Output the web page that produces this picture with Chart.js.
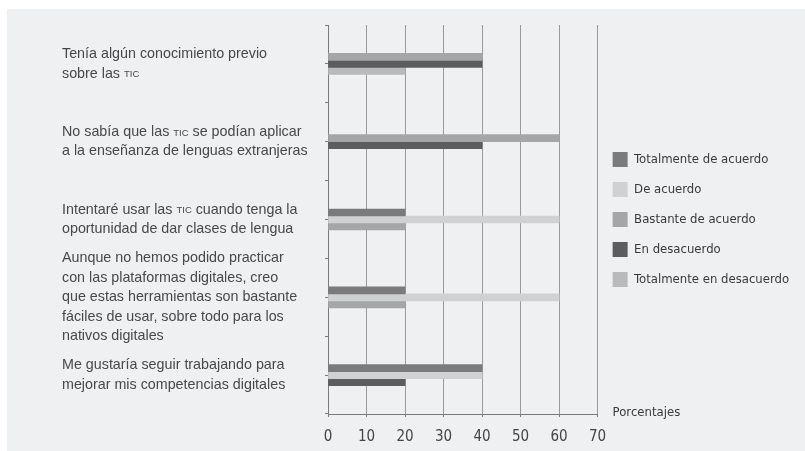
<!DOCTYPE html>
<html lang="es">
<head>
<meta charset="UTF-8">
<script src="https://cdn.jsdelivr.net/npm/chart.js@4.4.0/dist/chart.umd.min.js"></script>
<style>
    body { margin: 0; background: #ffffff; }
    .panel { position: absolute; left: 7px; top: 9px; width: 798px; height: 442px; background: #eff0f2; }
</style>
<title>Percepción de las TIC</title>
</head>
<body>
<div class="panel">
    <canvas id="chart" width="798" height="442"></canvas>
</div>
<script>
    // statements (TIC is drawn in small caps)
    const statements = [
        ['Tenía algún conocimiento previo', 'sobre las TIC'],
        ['No sabía que las TIC se podían aplicar', 'a la enseñanza de lenguas extranjeras'],
        ['Intentaré usar las TIC cuando tenga la', 'oportunidad de dar clases de lengua'],
        ['Aunque no hemos podido practicar', 'con las plataformas digitales, creo', 'que estas herramientas son bastante', 'fáciles de usar, sobre todo para los', 'nativos digitales'],
        ['Me gustaría seguir trabajando para', 'mejorar mis competencias digitales']
    ];
    const seriesNames = ['Totalmente de acuerdo', 'De acuerdo', 'Bastante de acuerdo', 'En desacuerdo', 'Totalmente en desacuerdo'];
    const totalmenteAcuerdo = [null, null, 20, 20, 40];
    const deAcuerdo = [null, null, 60, 60, 40];
    const bastanteAcuerdo = [40, 60, 20, 20, null];
    const enDesacuerdo = [40, 40, null, null, 20];
    const totalmenteDesacuerdo = [20, null, null, null, null];
    const xTicks = [0, 10, 20, 30, 40, 50, 60, 70];

    const colors = ['#7b7b7d', '#d0d1d3', '#a5a6a8', '#5d5d5f', '#b9babc'];
    const narrow = "'DejaVu Sans Condensed', 'Liberation Sans Narrow', sans-serif";
    const legendSize = 13;

    const allSeries = [totalmenteAcuerdo, deAcuerdo, bastanteAcuerdo, enDesacuerdo, totalmenteDesacuerdo];
    const datasets = allSeries.map((vals, i) => ({
        label: seriesNames[i],
        data: vals,
        backgroundColor: colors[i],
        borderWidth: 0,
        barThickness: 7,
        skipNull: true
    }));

    // keep the plot's right edge at x = 589 whatever the legend text width is
    const canvas = document.getElementById('chart');
    const mctx = canvas.getContext('2d');
    mctx.font = legendSize + 'px ' + narrow;
    const longest = Math.max(...seriesNames.map(n => mctx.measureText(n).width));
    const legendWidth = 15 + 15 + legendSize / 2 + longest + 10;
    const padRight = Math.max(0, 798 - 589 - legendWidth + 3);

    // left statements, with "TIC" in small caps
    const statementLabels = {
        id: 'statementLabels',
        afterDraw(chart) {
            const ctx = chart.ctx;
            const yScale = chart.scales.y;
            const lineH = 19.5;
            ctx.save();
            ctx.fillStyle = '#484848';
            ctx.textBaseline = 'middle';
            statements.forEach((lines, i) => {
                const cy = yScale.getPixelForValue(i);
                const y0 = cy - (lines.length - 1) * lineH / 2;
                lines.forEach((line, j) => {
                    let x = 55;
                    const y = y0 + j * lineH;
                    line.split(/(TIC)/).forEach(part => {
                        if (part === 'TIC') {
                            ctx.font = "9.5px 'Liberation Sans', sans-serif";
                        } else {
                            ctx.font = "14.3px 'Liberation Sans', sans-serif";
                        }
                        ctx.fillText(part, x, part === 'TIC' ? y + 1 : y);
                        x += ctx.measureText(part).width;
                    });
                });
            });
            // axis name at the end of the value axis
            const area = chart.chartArea;
            ctx.font = '13px ' + narrow;
            ctx.fillStyle = '#3a3a3a';
            ctx.fillText('Porcentajes', area.right + 15, area.bottom - 1);
            ctx.restore();
        }
    };

    new Chart(canvas, {
        type: 'bar',
        data: { labels: statements.map(s => s.join(' ')), datasets: datasets },
        options: {
            indexAxis: 'y',
            responsive: false,
            animation: false,
            layout: { padding: { top: 16, left: 0, bottom: 0, right: padRight } },
            plugins: {
                tooltip: { enabled: false },
                legend: {
                    position: 'right',
                    fullSize: false,
                    labels: {
                        boxWidth: 15,
                        boxHeight: 15,
                        padding: 15,
                        color: '#3a3a3a',
                        font: { family: narrow, size: legendSize }
                    }
                }
            },
            scales: {
                x: {
                    min: 0,
                    max: 70,
                    afterBuildTicks: s => { s.ticks = xTicks.map(v => ({ value: v })); },
                    afterFit: s => { s.height = 37; },
                    grid: { color: '#9a9a9a', tickLength: 3, tickColor: '#7a7a7a' },
                    border: { color: '#7a7a7a' },
                    ticks: { color: '#444444', padding: 11, font: { family: narrow, size: 15 } }
                },
                y: {
                    display: false
                },
                yTicks: {
                    type: 'linear',
                    position: 'left',
                    min: 0,
                    max: 9,
                    afterFit: s => { s.width = 321; },
                    grid: { drawOnChartArea: false, tickLength: 3, color: '#7a7a7a' },
                    border: { color: '#7a7a7a' },
                    ticks: { display: false, stepSize: 1 }
                }
            }
        },
        plugins: [statementLabels]
    });
</script>
</body>
</html>
